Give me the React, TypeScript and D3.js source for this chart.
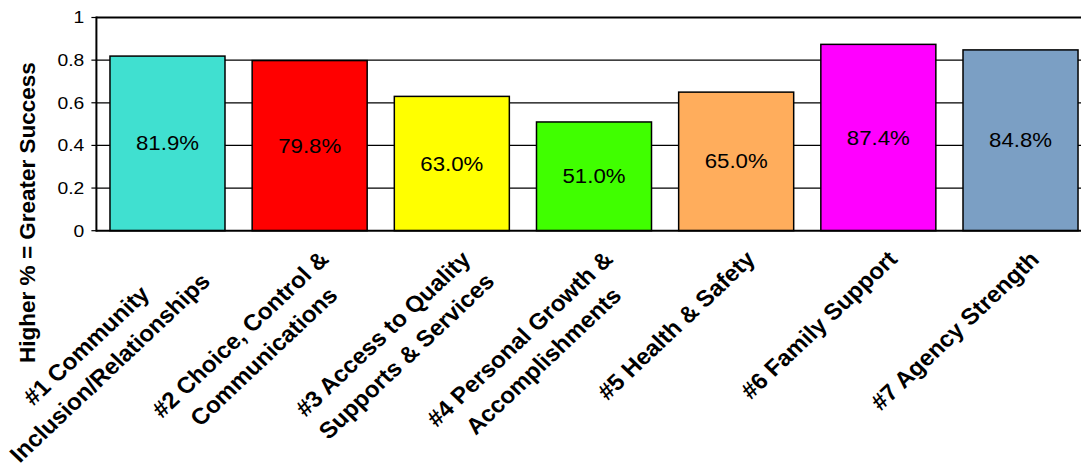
import React from "react";
import * as d3 from "d3";

const categories: string[][] = [
  ["#1 Community", "Inclusion/Relationships"],
  ["#2 Choice, Control &", "Communications"],
  ["#3 Access to Quality", "Supports & Services"],
  ["#4 Personal Growth &", "Accomplishments"],
  ["#5 Health & Safety"],
  ["#6 Family Support"],
  ["#7 Agency Strength"],
];
const values: number[] = [0.819, 0.798, 0.63, 0.51, 0.65, 0.874, 0.848];
const valueLabels: string[] = ["81.9%", "79.8%", "63.0%", "51.0%", "65.0%", "87.4%", "84.8%"];
const colors: string[] = ["#40E0D0", "#FF0000", "#FFFF00", "#40FF00", "#FFAD5C", "#FF00FF", "#7B9FC4"];
const yTicks: number[] = [0, 0.2, 0.4, 0.6, 0.8, 1];
const yTickLabels: string[] = ["0", "0.2", "0.4", "0.6", "0.8", "1"];
const yTitle = "Higher % = Greater Success";

const FONT = "Arial, 'Liberation Sans', sans-serif";
const W = 1081;
const H = 466;
const plotLeft = 96.4;
const plotRight = 1091.6;
const plotTop = 17.5;
const plotBottom = 230.7;

let ctx: CanvasRenderingContext2D | null = null;
function measure(text: string, font: string): number {
  if (!ctx) {
    const c = document.createElement("canvas");
    ctx = c.getContext("2d");
  }
  if (!ctx) return text.length * 12;
  ctx.font = font;
  return ctx.measureText(text).width;
}

export default function App() {
  const ids = categories.map((c, i) => String(i));
  const x = d3
    .scaleBand<string>()
    .domain(ids)
    .range([plotLeft, plotRight])
    .paddingInner(0.191)
    .paddingOuter(0.0955);
  const y = d3.scaleLinear().domain([0, 1]).range([plotBottom, plotTop]);

  const catFont = 22.8;
  const catLineH = 31.5;
  const catAscent = catFont * 0.9;

  return (
    <svg
      width={W}
      height={H}
      style={{ position: "absolute", left: 0, top: 0, background: "#fff" }}
      fontFamily={FONT}
    >
      <rect x={0} y={0} width={W} height={H} fill="#fff" />
      {yTicks.map((t, i) => (
        <g key={"g" + i}>
          {t > 0 && t < 1 && (
            <line x1={plotLeft} x2={plotRight} y1={y(t)} y2={y(t)} stroke="#000" strokeWidth={1.2} />
          )}
          <line x1={plotLeft - 5} x2={plotLeft} y1={y(t)} y2={y(t)} stroke="#000" strokeWidth={1.2} />
          <text
            transform={`translate(84.3, ${y(t) + 5.9}) scale(1.17,1)`}
            textAnchor="end"
            fontSize={16.5}
            fill="#000"
          >
            {yTickLabels[i]}
          </text>
        </g>
      ))}
      <line x1={plotLeft} x2={plotRight} y1={plotTop} y2={plotTop} stroke="#000" strokeWidth={2} />
      {values.map((v, i) => {
        const bx = x(String(i)) as number;
        const bw = x.bandwidth();
        return (
          <g key={"b" + i}>
            <rect
              x={bx}
              y={y(v)}
              width={bw}
              height={plotBottom - y(v)}
              fill={colors[i]}
              stroke="#000"
              strokeWidth={1.5}
            />
            <text
              transform={`translate(${bx + bw / 2}, ${(y(v) + plotBottom) / 2 + 7}) scale(1.14,1)`}
              textAnchor="middle"
              fontSize={19.5}
              fill="#000"
            >
              {valueLabels[i]}
            </text>
          </g>
        );
      })}
      <line x1={plotLeft} x2={plotLeft} y1={plotTop - 1} y2={plotBottom + 1} stroke="#000" strokeWidth={2} />
      <line x1={plotLeft} x2={plotRight} y1={plotBottom} y2={plotBottom} stroke="#000" strokeWidth={2} />
      {categories.map((lines, i) => {
        const cx = (x(String(i)) as number) + x.bandwidth() / 2;
        const font = `bold ${catFont}px ${FONT}`;
        const widths = lines.map((l) => measure(l, font));
        const bw = Math.max(...widths);
        return (
          <g key={"c" + i} transform={`translate(${cx + 5}, 246) scale(1.06,1) rotate(-45)`}>
            {lines.map((l, j) => (
              <text
                key={j}
                x={-bw / 2}
                y={catAscent + j * catLineH}
                textAnchor="middle"
                fontSize={catFont}
                fontWeight="bold"
                fill="#000"
              >
                {l}
              </text>
            ))}
          </g>
        );
      })}
      <text
        transform={`translate(35, 212.5) rotate(-90)`}
        textAnchor="middle"
        fontSize={22.5}
        fontWeight="bold"
        fill="#000"
      >
        {yTitle}
      </text>
    </svg>
  );
}
